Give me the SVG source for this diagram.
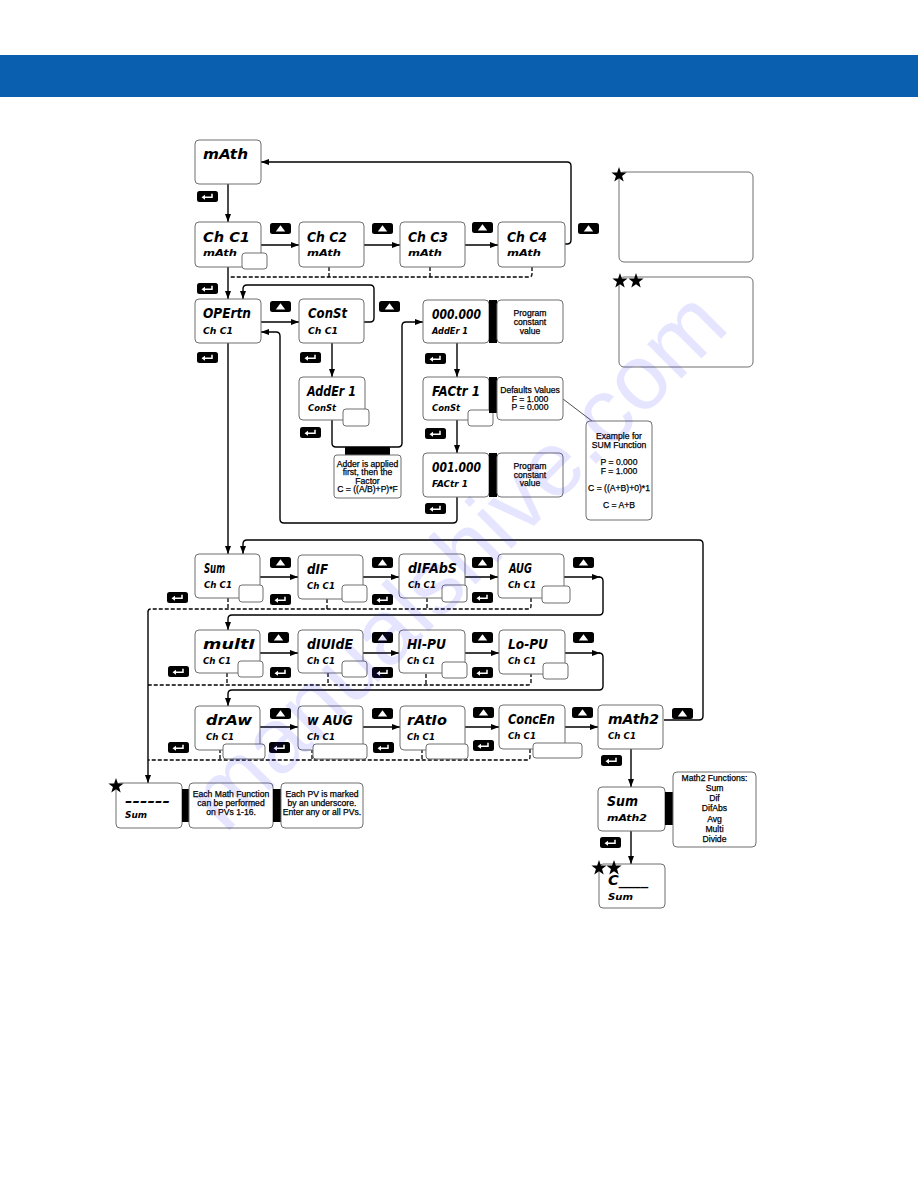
<svg xmlns="http://www.w3.org/2000/svg" width="918" height="1188" viewBox="0 0 918 1188">
<style>
.box{fill:#fff;stroke:#6e6e6e;stroke-width:1}
.sm{fill:#fff;stroke:#6e6e6e;stroke-width:1}
.nb{fill:#fff;stroke:#6e6e6e;stroke-width:1}
.t1{font-family:"DejaVu Sans","Liberation Sans",sans-serif;font-weight:bold;font-style:oblique;font-size:14px;fill:#000}
.t2{font-family:"DejaVu Sans","Liberation Sans",sans-serif;font-weight:bold;font-style:oblique;font-size:9.5px;fill:#000}
.n{font-family:"Liberation Sans",Arial,sans-serif;font-size:8.6px;text-anchor:middle;fill:#000;stroke:#000;stroke-width:0.25}
.c{fill:none;stroke:#000;stroke-width:1.4}
.ca{fill:none;stroke:#000;stroke-width:1.4;marker-end:url(#ah)}
.cd{fill:none;stroke:#000;stroke-width:1.3;stroke-dasharray:4 2}
.bar{fill:#000}
</style>
<defs>
<marker id="ah" markerWidth="8" markerHeight="6" refX="8" refY="3" orient="auto" markerUnits="userSpaceOnUse"><path d="M0,0 L8,3 L0,6Z" fill="#000"/></marker>
<g id="ent"><rect width="21" height="11" rx="2.5" fill="#000"/><path d="M15,2.8 V6.3 H7.5" fill="none" stroke="#fff" stroke-width="1.5"/><path d="M4.5,6.3 L8,3.8 L8,8.8Z" fill="#fff"/></g>
<g id="up"><rect width="21" height="11" rx="2.5" fill="#000"/><path d="M10.5,2.3 L15.2,8.6 L5.8,8.6Z" fill="#fff"/></g>
<path id="st" d="M0,-8 L1.88,-2.59 L7.61,-2.47 L3.04,0.99 L4.7,6.47 L0,3.2 L-4.7,6.47 L-3.04,0.99 L-7.61,-2.47 L-1.88,-2.59Z"/>
</defs>
<rect x="0" y="0" width="918" height="1188" fill="#fff"/>
<rect x="0" y="55" width="918" height="42" fill="#0a5fae"/>

<g id="connectors">
<path class="ca" d="M228,184 V222"/>
<path class="ca" d="M261,245 H299"/>
<path class="ca" d="M364,245 H400"/>
<path class="ca" d="M465,245 H498"/>
<path class="ca" d="M565,244 H567 Q571,244 571,240 V166 Q571,162 567,162 H261"/>
<path class="ca" d="M228,267 V299"/>
<path class="cd" d="M532,267 V274 Q532,277 529,277 H229"/>
<path class="cd" d="M430,267 V277"/>
<path class="cd" d="M329,267 V277"/>
<path class="ca" d="M261,322 H299"/>
<path class="ca" d="M364,322 H370 Q374,322 374,318 V289 Q374,285 370,285 H247 Q243,285 243,289 V299"/>
<path class="ca" d="M332,343 V377"/>
<path class="ca" d="M332,420 V443 Q332,447 336,447 H398 Q402,447 402,443 V326 Q402,322 406,322 H423"/>
<path class="ca" d="M457,343 V377"/>
<path class="ca" d="M457,420 V453"/>
<path class="ca" d="M457,497 V519 Q457,523 453,523 H284 Q280,523 280,519 V336 Q280,332 276,332 H261"/>
<path class="ca" d="M228,343 V554"/>
<path class="ca" d="M664,720 H699 Q703,720 703,716 V544 Q703,540 699,540 H247 Q243,540 243,544 V554"/>
<path class="ca" d="M260,577 H298"/>
<path class="ca" d="M363,577 H399"/>
<path class="ca" d="M465,577 H498"/>
<path class="ca" d="M564,577 H600"/>
<path class="ca" d="M599,577 Q603,577 603,581 V611 Q603,615 599,615 H232 Q228,615 228,619 V630"/>
<path class="cd" d="M531,598 V606 Q531,609 528,609 H151 Q148,609 148,612"/>
<path class="cd" d="M228,598 V609"/>
<path class="cd" d="M327,599 V609"/>
<path class="cd" d="M427,598 V609"/>
<path class="ca" d="M260,653 H298"/>
<path class="ca" d="M363,653 H399"/>
<path class="ca" d="M465,653 H499"/>
<path class="ca" d="M565,653 H600"/>
<path class="ca" d="M599,653 Q603,653 603,657 V686 Q603,690 599,690 H232 Q228,690 228,694 V706"/>
<path class="cd" d="M531,673 V682 Q531,685 528,685 H148"/>
<path class="cd" d="M227,673 V685"/>
<path class="cd" d="M328,673 V685"/>
<path class="cd" d="M426,674 V685"/>
<path class="ca" d="M260,727 H298"/>
<path class="ca" d="M363,727 H400"/>
<path class="ca" d="M465,727 H499"/>
<path class="ca" d="M565,727 H598"/>
<path class="cd" d="M530,749 V757 Q530,760 527,760 H148"/>
<path class="cd" d="M220,749 V760"/>
<path class="cd" d="M312,749 V760"/>
<path class="cd" d="M422,749 V760"/>
<path class="ca" d="M148,611 V783"/>
<path class="ca" d="M631,749 V787"/>
<path class="ca" d="M631,831 V864"/>
<path fill="none" stroke="#222" stroke-width="0.8" d="M563,399 L592,421"/>
</g>

<g id="buttons">
<use href="#ent" x="197" y="191"/>
<use href="#ent" x="197" y="283"/>
<use href="#ent" x="197" y="352"/>
<use href="#ent" x="300" y="352"/>
<use href="#ent" x="300" y="427"/>
<use href="#ent" x="425" y="353"/>
<use href="#ent" x="425" y="428"/>
<use href="#ent" x="425" y="503"/>
<use href="#ent" x="167" y="592"/>
<use href="#ent" x="270" y="594"/>
<use href="#ent" x="372" y="594"/>
<use href="#ent" x="472" y="592"/>
<use href="#ent" x="168" y="666"/>
<use href="#ent" x="270" y="667"/>
<use href="#ent" x="372" y="667"/>
<use href="#ent" x="472" y="667"/>
<use href="#ent" x="168" y="742"/>
<use href="#ent" x="269" y="742"/>
<use href="#ent" x="373" y="742"/>
<use href="#ent" x="473" y="740"/>
<use href="#ent" x="601" y="755"/>
<use href="#ent" x="600" y="837"/>
<use href="#up" x="270" y="223"/>
<use href="#up" x="372" y="223"/>
<use href="#up" x="472" y="222"/>
<use href="#up" x="578" y="223"/>
<use href="#up" x="270" y="301"/>
<use href="#up" x="379" y="301"/>
<use href="#up" x="270" y="557"/>
<use href="#up" x="372" y="557"/>
<use href="#up" x="472" y="557"/>
<use href="#up" x="573" y="557"/>
<use href="#up" x="268" y="632"/>
<use href="#up" x="372" y="632"/>
<use href="#up" x="472" y="632"/>
<use href="#up" x="573" y="632"/>
<use href="#up" x="270" y="708"/>
<use href="#up" x="372" y="708"/>
<use href="#up" x="473" y="707"/>
<use href="#up" x="572" y="707"/>
<use href="#up" x="672" y="708"/>
</g>

<g id="n-math"><rect class="box" x="195" y="140" width="66" height="44" rx="4"/><text class="t1" x="203" y="159" textLength="45" lengthAdjust="spacingAndGlyphs">mAth</text></g>
<g id="n-chc1"><rect class="box" x="195" y="222" width="66" height="45" rx="4"/><text class="t1" x="203" y="242" textLength="47" lengthAdjust="spacingAndGlyphs">Ch C1</text><text class="t2" x="203" y="256" textLength="34" lengthAdjust="spacingAndGlyphs">mAth</text><rect class="sm" x="242" y="253" width="25" height="16" rx="3"/></g>
<g id="n-chc2"><rect class="box" x="299" y="222" width="65" height="45" rx="4"/><text class="t1" x="307" y="242" textLength="40" lengthAdjust="spacingAndGlyphs">Ch C2</text><text class="t2" x="307" y="256" textLength="34" lengthAdjust="spacingAndGlyphs">mAth</text></g>
<g id="n-chc3"><rect class="box" x="400" y="222" width="65" height="45" rx="4"/><text class="t1" x="408" y="242" textLength="40" lengthAdjust="spacingAndGlyphs">Ch C3</text><text class="t2" x="408" y="256" textLength="34" lengthAdjust="spacingAndGlyphs">mAth</text></g>
<g id="n-chc4"><rect class="box" x="498" y="222" width="67" height="45" rx="4"/><text class="t1" x="507" y="242" textLength="40" lengthAdjust="spacingAndGlyphs">Ch C4</text><text class="t2" x="507" y="256" textLength="34" lengthAdjust="spacingAndGlyphs">mAth</text></g>
<g id="n-opertn"><rect class="box" x="195" y="299" width="66" height="44" rx="4"/><text class="t1" x="203" y="318" textLength="48" lengthAdjust="spacingAndGlyphs">OPErtn</text><text class="t2" x="203" y="334" textLength="30" lengthAdjust="spacingAndGlyphs">Ch C1</text></g>
<g id="n-const"><rect class="box" x="299" y="299" width="65" height="44" rx="4"/><text class="t1" x="308" y="318" textLength="39" lengthAdjust="spacingAndGlyphs">ConSt</text><text class="t2" x="308" y="334" textLength="30" lengthAdjust="spacingAndGlyphs">Ch C1</text></g>
<g id="n-adder1"><rect class="box" x="299" y="377" width="66" height="43" rx="4"/><text class="t1" x="307" y="396" textLength="49" lengthAdjust="spacingAndGlyphs">AddEr 1</text><text class="t2" x="308" y="411" textLength="28" lengthAdjust="spacingAndGlyphs">ConSt</text><rect class="sm" x="343" y="409" width="26" height="17" rx="3"/></g>
<g id="n-adderval"><rect class="box" x="423" y="300" width="66" height="43" rx="4"/><text class="t1" x="432" y="319" textLength="49" lengthAdjust="spacingAndGlyphs">000.000</text><text class="t2" x="432" y="334" textLength="36" lengthAdjust="spacingAndGlyphs">AddEr 1</text></g>
<g id="n-factr1"><rect class="box" x="423" y="377" width="66" height="43" rx="4"/><text class="t1" x="432" y="396" textLength="48" lengthAdjust="spacingAndGlyphs">FACtr 1</text><text class="t2" x="432" y="411" textLength="28" lengthAdjust="spacingAndGlyphs">ConSt</text><rect class="sm" x="468" y="410" width="25" height="16" rx="3"/></g>
<g id="n-factrval"><rect class="box" x="423" y="453" width="66" height="44" rx="4"/><text class="t1" x="432" y="472" textLength="49" lengthAdjust="spacingAndGlyphs">001.000</text><text class="t2" x="432" y="487" textLength="36" lengthAdjust="spacingAndGlyphs">FACtr 1</text></g>

<g id="note-prog1"><rect class="bar" x="489" y="300" width="8" height="43"/><rect class="nb" x="497" y="300" width="66" height="43" rx="4"/><text class="n" x="530" y="316">Program</text><text class="n" x="530" y="325">constant</text><text class="n" x="530" y="334">value</text></g>
<g id="note-defaults"><rect class="bar" x="489" y="377" width="8" height="36"/><rect class="nb" x="497" y="377" width="66" height="43" rx="4"/><text class="n" x="530" y="393">Defaults Values</text><text class="n" x="530" y="402">F = 1.000</text><text class="n" x="530" y="410">P = 0.000</text></g>
<g id="note-prog2"><rect class="bar" x="489" y="453" width="8" height="44"/><rect class="nb" x="497" y="453" width="66" height="44" rx="4"/><text class="n" x="530" y="469">Program</text><text class="n" x="530" y="478">constant</text><text class="n" x="530" y="486">value</text></g>
<g id="note-example"><rect class="nb" x="586" y="421" width="66" height="99" rx="4"/><text class="n" x="619" y="439">Example for</text><text class="n" x="619" y="448">SUM Function</text><text class="n" x="619" y="465">P = 0.000</text><text class="n" x="619" y="474">F = 1.000</text><text class="n" x="619" y="491">C = ((A+B)+0)*1</text><text class="n" x="619" y="508">C = A+B</text></g>
<g id="note-adder"><rect class="bar" x="345" y="447" width="45" height="8"/><rect class="nb" x="334" y="455" width="67" height="43" rx="3"/><text class="n" x="367.5" y="467">Adder is applied</text><text class="n" x="367.5" y="475">first, then the</text><text class="n" x="367.5" y="484">Factor</text><text class="n" x="367.5" y="492">C = ((A/B)+P)*F</text></g>

<g id="star-box1"><rect class="nb" x="619" y="172" width="134" height="90" rx="5"/><use href="#st" x="619" y="175"/></g>
<g id="star-box2"><rect class="nb" x="619" y="277" width="134" height="90" rx="5"/><use href="#st" x="620" y="281"/><use href="#st" x="636" y="281"/></g>

<g id="n-sum"><rect class="box" x="195" y="554" width="65" height="44" rx="4"/><text class="t1" x="204" y="573" textLength="21" lengthAdjust="spacingAndGlyphs">Sum</text><text class="t2" x="204" y="588" textLength="28" lengthAdjust="spacingAndGlyphs">Ch C1</text><rect class="sm" x="239" y="585" width="24" height="17" rx="3"/></g>
<g id="n-dif"><rect class="box" x="298" y="555" width="65" height="44" rx="4"/><text class="t1" x="307" y="574" textLength="21" lengthAdjust="spacingAndGlyphs">dIF</text><text class="t2" x="307" y="589" textLength="28" lengthAdjust="spacingAndGlyphs">Ch C1</text><rect class="sm" x="342" y="585" width="25" height="17" rx="3"/></g>
<g id="n-difabs"><rect class="box" x="399" y="554" width="66" height="44" rx="4"/><text class="t1" x="408" y="573" textLength="49" lengthAdjust="spacingAndGlyphs">dIFAbS</text><text class="t2" x="408" y="588" textLength="28" lengthAdjust="spacingAndGlyphs">Ch C1</text><rect class="sm" x="442" y="585" width="25" height="17" rx="3"/></g>
<g id="n-avg"><rect class="box" x="498" y="554" width="66" height="44" rx="4"/><text class="t1" x="509" y="573" textLength="23" lengthAdjust="spacingAndGlyphs">AUG</text><text class="t2" x="508" y="588" textLength="28" lengthAdjust="spacingAndGlyphs">Ch C1</text><rect class="sm" x="542" y="586" width="28" height="17" rx="3"/></g>

<g id="n-multi"><rect class="box" x="195" y="630" width="65" height="43" rx="4"/><text class="t1" x="203" y="649" textLength="52" lengthAdjust="spacingAndGlyphs">multI</text><text class="t2" x="203" y="664" textLength="28" lengthAdjust="spacingAndGlyphs">Ch C1</text><rect class="sm" x="238" y="661" width="25" height="16" rx="3"/></g>
<g id="n-divide"><rect class="box" x="298" y="630" width="65" height="43" rx="4"/><text class="t1" x="307" y="649" textLength="46" lengthAdjust="spacingAndGlyphs">dIUIdE</text><text class="t2" x="307" y="664" textLength="28" lengthAdjust="spacingAndGlyphs">Ch C1</text><rect class="sm" x="342" y="661" width="25" height="16" rx="3"/></g>
<g id="n-hipu"><rect class="box" x="399" y="630" width="66" height="43" rx="4"/><text class="t1" x="407" y="649" textLength="39" lengthAdjust="spacingAndGlyphs">HI-PU</text><text class="t2" x="407" y="664" textLength="28" lengthAdjust="spacingAndGlyphs">Ch C1</text><rect class="sm" x="442" y="662" width="25" height="16" rx="3"/></g>
<g id="n-lopu"><rect class="box" x="499" y="630" width="66" height="44" rx="4"/><text class="t1" x="508" y="649" textLength="40" lengthAdjust="spacingAndGlyphs">Lo-PU</text><text class="t2" x="508" y="664" textLength="28" lengthAdjust="spacingAndGlyphs">Ch C1</text><rect class="sm" x="543" y="663" width="25" height="16" rx="3"/></g>

<g id="n-draw"><rect class="box" x="195" y="706" width="65" height="44" rx="4"/><text class="t1" x="206" y="725" textLength="46" lengthAdjust="spacingAndGlyphs">drAw</text><text class="t2" x="206" y="740" textLength="28" lengthAdjust="spacingAndGlyphs">Ch C1</text><rect class="sm" x="223" y="744" width="42" height="15" rx="3"/></g>
<g id="n-wavg"><rect class="box" x="298" y="706" width="65" height="44" rx="4"/><text class="t1" x="307" y="725" textLength="46" lengthAdjust="spacingAndGlyphs">w AUG</text><text class="t2" x="307" y="740" textLength="28" lengthAdjust="spacingAndGlyphs">Ch C1</text><rect class="sm" x="313" y="744" width="54" height="15" rx="3"/></g>
<g id="n-ratio"><rect class="box" x="400" y="706" width="65" height="44" rx="4"/><text class="t1" x="407" y="725" textLength="40" lengthAdjust="spacingAndGlyphs">rAtIo</text><text class="t2" x="407" y="740" textLength="28" lengthAdjust="spacingAndGlyphs">Ch C1</text><rect class="sm" x="426" y="744" width="42" height="15" rx="3"/></g>
<g id="n-concen"><rect class="box" x="499" y="705" width="66" height="44" rx="4"/><text class="t1" x="508" y="724" textLength="47" lengthAdjust="spacingAndGlyphs">ConcEn</text><text class="t2" x="508" y="739" textLength="28" lengthAdjust="spacingAndGlyphs">Ch C1</text><rect class="sm" x="533" y="743" width="49" height="15" rx="3"/></g>
<g id="n-math2"><rect class="box" x="598" y="705" width="65" height="44" rx="4"/><text class="t1" x="608" y="724" textLength="51" lengthAdjust="spacingAndGlyphs">mAth2</text><text class="t2" x="608" y="739" textLength="28" lengthAdjust="spacingAndGlyphs">Ch C1</text></g>

<g id="n-summ2"><rect class="box" x="598" y="787" width="67" height="44" rx="4"/><text class="t1" x="607" y="806" textLength="31" lengthAdjust="spacingAndGlyphs">Sum</text><text class="t2" x="607" y="821" textLength="40" lengthAdjust="spacingAndGlyphs">mAth2</text></g>
<g id="note-math2"><rect class="bar" x="665" y="792" width="8" height="33"/><rect class="nb" x="673" y="772" width="83" height="75" rx="4"/><text class="n" x="714.5" y="781">Math2 Functions:</text><text class="n" x="714.5" y="791">Sum</text><text class="n" x="714.5" y="801">Dif</text><text class="n" x="714.5" y="811">DifAbs</text><text class="n" x="714.5" y="822">Avg</text><text class="n" x="714.5" y="832">Multi</text><text class="n" x="714.5" y="842">Divide</text></g>
<g id="n-c"><rect class="box" x="599" y="864" width="66" height="44" rx="4"/><text class="t1" x="608" y="885" textLength="40" lengthAdjust="spacingAndGlyphs">C____</text><text class="t2" x="608" y="900" textLength="25" lengthAdjust="spacingAndGlyphs">Sum</text><use href="#st" x="599" y="868"/><use href="#st" x="614" y="868"/></g>

<g id="n-pv"><rect class="box" x="116" y="783" width="66" height="45" rx="4"/><text class="t1" x="125" y="806" textLength="45" lengthAdjust="spacingAndGlyphs">------</text><text class="t2" x="125" y="818" textLength="22" lengthAdjust="spacingAndGlyphs">Sum</text><use href="#st" x="116" y="786"/></g>
<g id="note-eachmath"><rect class="bar" x="182" y="789" width="7" height="33"/><rect class="nb" x="189" y="783" width="84" height="45" rx="4"/><text class="n" x="231" y="797">Each Math Function</text><text class="n" x="231" y="806">can be performed</text><text class="n" x="231" y="815">on PVs 1-16.</text></g>
<g id="note-eachpv"><rect class="bar" x="273" y="789" width="8" height="33"/><rect class="nb" x="281" y="783" width="82" height="45" rx="4"/><text class="n" x="322" y="797">Each PV is marked</text><text class="n" x="322" y="806">by an underscore.</text><text class="n" x="322" y="815">Enter any or all PVs.</text></g>

<text transform="translate(225,835) rotate(-45)" font-family="Liberation Sans,Arial,sans-serif" font-size="92" fill="#2a2aff" fill-opacity="0.12">manualshive.com</text>
</svg>
